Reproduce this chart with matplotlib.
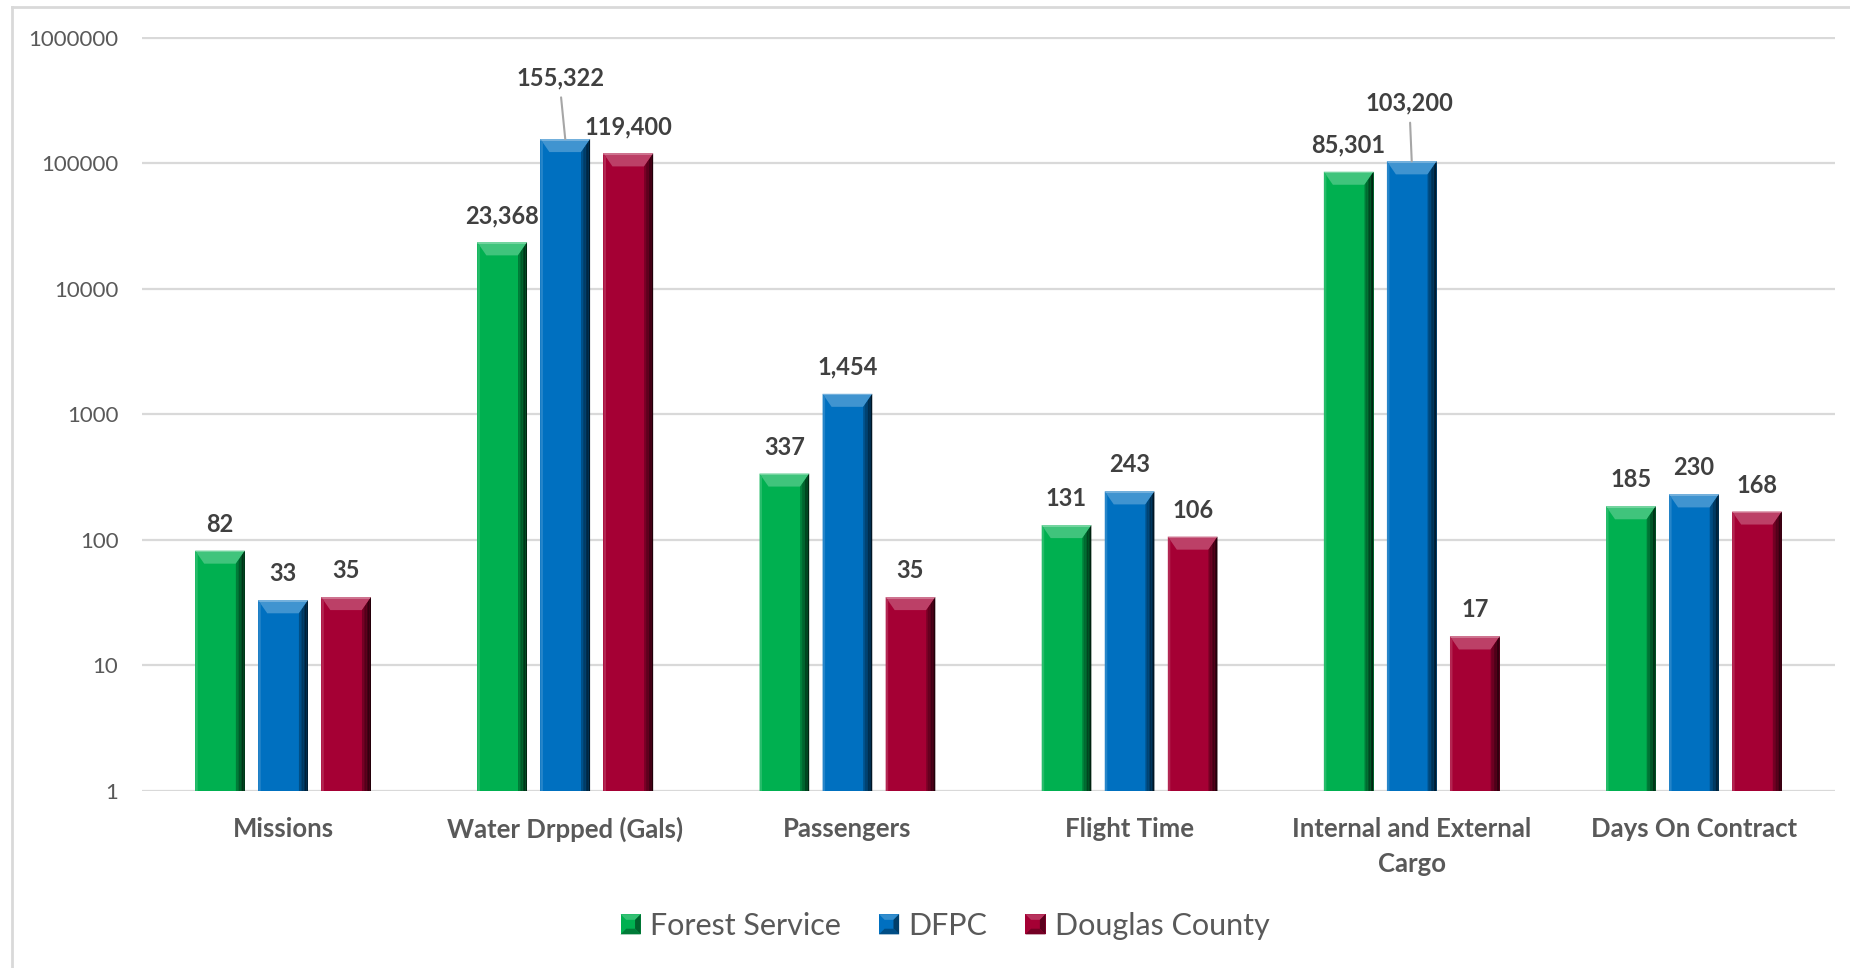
import matplotlib
matplotlib.use("Agg")
import matplotlib.pyplot as plt
import numpy as np
from matplotlib.colors import to_rgb
from matplotlib.legend_handler import HandlerBase
from matplotlib.lines import Line2D
from matplotlib.patches import Polygon, Rectangle

# ---- data ----
categories = [
    "Missions",
    "Water Drpped (Gals)",
    "Passengers",
    "Flight Time",
    "Internal and External\nCargo",
    "Days On Contract",
]
series_names = ["Forest Service", "DFPC", "Douglas County"]
forest_service = [82, 23368, 337, 131, 85301, 185]
dfpc = [33, 155322, 1454, 243, 103200, 230]
douglas_county = [35, 119400, 35, 106, 17, 168]
y_ticks = [1, 10, 100, 1000, 10000, 100000, 1000000]

series_values = [forest_service, dfpc, douglas_county]
series_colors = ["#00B050", "#0070C0", "#A50034"]

# labels that Excel pushed up with a leader line: (series, category) -> pixel offset
moved_labels = {(1, 1): (-5, 50), (1, 4): (-2, 47)}

plt.rcParams["font.family"] = ["Lato", "DejaVu Sans"]
TICK_GRAY = "#595959"
LABEL_GRAY = "#404040"
GRID_GRAY = "#D9D9D9"

W, H, DPI = 1850, 968, 100


def mix(color, other, amount):
    c = np.array(to_rgb(color))
    o = np.array(to_rgb(other))
    return tuple(c * (1 - amount) + o * amount)


def bevel_bar(ax, patch, color):
    """Draw an Excel-like bevel on top of a plain bar, in pixel units."""
    bb = patch.get_window_extent()
    x0, x1, y0, y1 = bb.x0, bb.x1, bb.y0, bb.y1
    side, top_h, bot_h = 9.0, 13.0, 8.0
    inv = ax.transData.inverted()

    def add(verts, fc):
        pts = inv.transform(np.asarray(verts, dtype=float))
        ax.add_patch(Polygon(pts, closed=True, facecolor=fc, edgecolor="none",
                             linewidth=0, zorder=3))

    add([(x0, y0), (x1, y0), (x1 - side, y0 + bot_h), (x0 + side, y0 + bot_h)],
        mix(color, "black", 0.35))
    add([(x0, y1), (x1, y1), (x1 - side, y1 - top_h), (x0 + side, y1 - top_h)],
        mix(color, "white", 0.25))
    add([(x0, y1 - 1.5), (x1, y1 - 1.5), (x1, y1), (x0, y1)], mix(color, "white", 0.45))
    add([(x0, y0), (x0, y1), (x0 + 2.5, y1 - top_h * 2.5 / side),
         (x0 + 2.5, y0 + bot_h * 2.5 / side)], mix(color, "white", 0.15))

    steps = 6
    for i in range(steps):
        xa = x1 - side + i * side / steps
        xb = xa + side / steps
        ta = y1 - top_h * (x1 - xa) / side
        tb = y1 - top_h * (x1 - xb) / side
        ba = y0 + bot_h * (x1 - xa) / side
        bbm = y0 + bot_h * (x1 - xb) / side
        add([(xa, ta), (xb, tb), (xb, bbm), (xa, ba)],
            mix(color, "black", 0.2 + 0.6 * (i + 1) / steps))


class BevelSquareHandler(HandlerBase):
    def create_artists(self, legend, orig_handle, xdescent, ydescent, width,
                       height, fontsize, trans):
        color = orig_handle.get_facecolor()
        s = min(width, height)
        x0 = -xdescent + (width - s) / 2
        y0 = -ydescent + (height - s) / 2
        x1, y1 = x0 + s, y0 + s
        i = s * 0.28
        parts = [
            ([(x0, y0), (x1, y0), (x1, y1), (x0, y1)], color),
            ([(x0, y1), (x1, y1), (x1 - i, y1 - i), (x0 + i, y1 - i)], mix(color, "white", 0.2)),
            ([(x1, y1), (x1, y0), (x1 - i, y0 + i), (x1 - i, y1 - i)], mix(color, "black", 0.45)),
            ([(x0, y0), (x1, y0), (x1 - i, y0 + i), (x0 + i, y0 + i)], mix(color, "black", 0.3)),
        ]
        return [Polygon(v, closed=True, facecolor=fc, edgecolor="none", transform=trans)
                for v, fc in parts]


fig = plt.figure(figsize=(W / DPI, H / DPI), dpi=DPI)
fig.patch.set_facecolor("white")

ax_left, ax_right, ax_top, ax_bottom = 142, 1835, 37.5, 791
ax = fig.add_axes([ax_left / W, 1 - ax_bottom / H, (ax_right - ax_left) / W,
                   (ax_bottom - ax_top) / H])
ax.set_yscale("log")
ax.set_xlim(-0.5, len(categories) - 0.5)
ax.set_ylim(y_ticks[0], y_ticks[-1])

for side in ["top", "right", "left", "bottom"]:
    ax.spines[side].set_visible(False)
ax.set_yticks(y_ticks, labels=[str(t) for t in y_ticks])
ax.yaxis.set_minor_locator(matplotlib.ticker.NullLocator())
ax.tick_params(axis="y", length=0, pad=17, labelsize=16, labelcolor=TICK_GRAY)
ax.set_xticks(np.arange(len(categories)), labels=categories)
ax.tick_params(axis="x", length=0, pad=18.5, labelsize=18.5, labelcolor=TICK_GRAY)
for lbl in ax.get_xticklabels():
    lbl.set_fontweight("bold")
    lbl.set_linespacing(1.55)
ax.grid(axis="y", color=GRID_GRAY, linewidth=1.6)
ax.set_axisbelow(True)

x = np.arange(len(categories))
bar_width = 0.176
step = 0.2235
bar_groups = []
for k, (name, values, color) in enumerate(zip(series_names, series_values, series_colors)):
    bars = ax.bar(x + (k - 1) * step, values, bar_width, color=color, label=name,
                  zorder=2, linewidth=0)
    bar_groups.append(bars)

for k, bars in enumerate(bar_groups):
    for j, patch in enumerate(bars):
        bevel_bar(ax, patch, series_colors[k])
        value = series_values[k][j]
        xc = patch.get_x() + patch.get_width() / 2
        text = f"{value:,}"
        if (k, j) in moved_labels:
            dx, dy = moved_labels[(k, j)]
            ax.annotate(text, (xc, value), xytext=(dx, dy), textcoords="offset pixels",
                        ha="center", va="bottom", fontsize=17, fontweight="bold",
                        color=LABEL_GRAY, zorder=5,
                        arrowprops=dict(arrowstyle="-", color="#A6A6A6", lw=1.5,
                                        shrinkA=4, shrinkB=0, relpos=(0.5, 0)))
        else:
            ax.annotate(text, (xc, value), xytext=(0, 15), textcoords="offset pixels",
                        ha="center", va="bottom", fontsize=17, fontweight="bold",
                        color=LABEL_GRAY, zorder=5)

handles = [Rectangle((0, 0), 1, 1, facecolor=c) for c in series_colors]
fig.legend(handles, series_names, loc="center", bbox_to_anchor=(945 / W, 1 - 926 / H),
           ncol=3, frameon=False, fontsize=22, labelcolor=TICK_GRAY,
           handler_map={Rectangle: BevelSquareHandler()},
           handlelength=0.66, handleheight=0.66, handletextpad=0.3, columnspacing=1.25)

# outer chart border (only the top and left edges are inside the crop)
fig.add_artist(Line2D([12 / W, 12 / W], [0, 1 - 7 / H], transform=fig.transFigure,
                      color=GRID_GRAY, linewidth=2))
fig.add_artist(Line2D([12 / W, 1], [1 - 7 / H, 1 - 7 / H], transform=fig.transFigure,
                      color=GRID_GRAY, linewidth=2))

fig.savefig("out.png", dpi=DPI)
